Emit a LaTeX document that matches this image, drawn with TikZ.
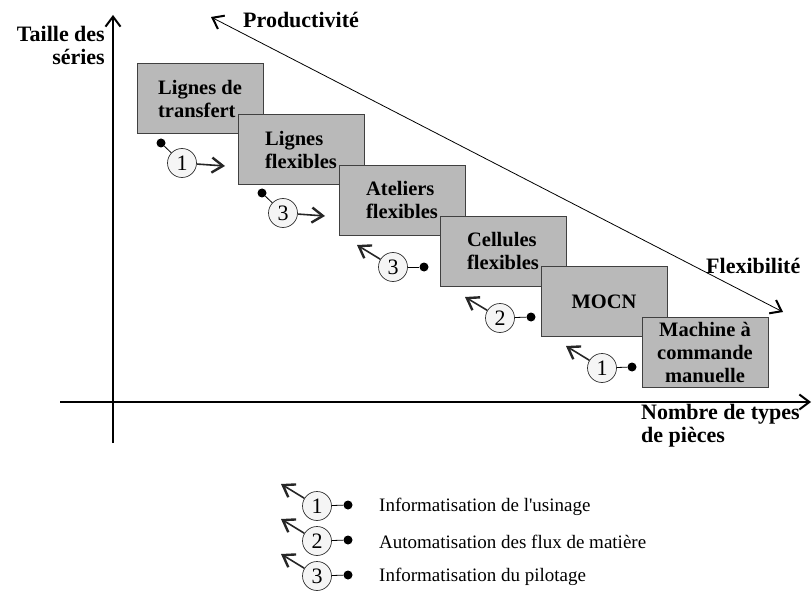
\documentclass[tikz,border=0pt]{standalone}
\usepackage{fontspec}
\setmainfont{Liberation Serif}
\usetikzlibrary{arrows.meta,positioning}
\tikzset{
  >={Straight Barb[length=10pt,width=15pt,line width=2pt]},
  lieu/.style={rectangle,draw=black!75,line width=1pt,fill=gray!55,minimum width=126pt,minimum height=70pt,align=left,inner sep=2pt,font=\bfseries\fontsize{20.5}{23}\selectfont},
  num/.style={circle,draw=black!80,line width=0.7pt,fill=gray!8,minimum size=29pt,inner sep=0pt,font=\fontsize{22}{22}\selectfont},
  pt/.style={circle,fill=black,minimum size=9pt,inner sep=0pt},
  flow/.style={-{Straight Barb[length=11pt,width=15pt,line width=2.4pt]},line width=1.6pt,draw=black!85},
  axe/.style={->,line width=1.4pt},
  lab/.style={inner sep=0pt,font=\bfseries\fontsize{22}{23}\selectfont},
  leg/.style={anchor=west,inner sep=0pt,font=\fontsize{19}{22}\selectfont}
}

\begin{document}
\begin{tikzpicture}[x=1pt,y=-1pt]
  \useasboundingbox (0,0) rectangle (812,615);

  % Axes
  \coordinate (yfoot) at (113,443);
  \coordinate (yhead) at (113,15);
  \coordinate (xfoot) at (60,402);
  \coordinate (xhead) at (811,402);
  \draw[axe] (yfoot) -- (yhead);
  \draw[axe] (xfoot) -- (xhead);
  \node[lab,anchor=north east,align=right] (taille) at (105,26) {Taille des\\séries};
  \node[lab,anchor=north west,align=left] (nombre) at (641,404) {Nombre de types\\de pièces};

  % Productivite / flexibilite
  \coordinate (prod) at (211,17);
  \coordinate (flex) at (783,312);
  \draw[axe,<->,line width=0.8pt] (prod) -- (flex);
  \node[lab,anchor=base west] (prodlab) at (243,28) {Productivité};
  \node[lab,anchor=base west] (flexlab) at (706,273) {Flexibilité};

  % Layered boxes
  \node[lieu] (transfert) at (200,99) {Lignes de\\transfert};
  \node[lieu,below right=-20.3pt and -26pt of transfert] (lignes) {Lignes\\flexibles};
  \node[lieu,below right=-20.3pt and -26pt of lignes] (ateliers) {Ateliers\\flexibles};
  \node[lieu,below right=-20.3pt and -26pt of ateliers] (cellules) {Cellules\\flexibles};
  \node[lieu,below right=-20.3pt and -26pt of cellules] (mocn) {MOCN};
  \node[lieu,align=center,below right=-20.3pt and -26pt of mocn] (manuelle) {Machine à\\commande\\manuelle};

  % Steps between boxes
  \node[num] (s1) at (182,163) {1};
  \node[pt] (d1) at (161,143) {};
  \coordinate (a1) at (225,166);
  \draw[line width=0.8pt] (d1) -- (s1);
  \draw[flow] (s1) -- (a1);

  \node[num] (s2) at (283,213) {3};
  \node[pt] (d2) at (262,193) {};
  \coordinate (a2) at (325,216);
  \draw[line width=0.8pt] (d2) -- (s2);
  \draw[flow] (s2) -- (a2);

  \node[num] (s3) at (393,267) {3};
  \node[pt] (d3) at (424,267) {};
  \coordinate (a3) at (357,245);
  \draw[line width=0.8pt] (s3) -- (d3);
  \draw[flow] (s3) -- (a3);

  \node[num] (s4) at (500,318) {2};
  \node[pt] (d4) at (531,317) {};
  \coordinate (a4) at (465,297);
  \draw[line width=0.8pt] (s4) -- (d4);
  \draw[flow] (s4) -- (a4);

  \node[num] (s5) at (602,368) {1};
  \node[pt] (d5) at (632,367) {};
  \coordinate (a5) at (566,346);
  \draw[line width=0.8pt] (s5) -- (d5);
  \draw[flow] (s5) -- (a5);

  % Legend
  \node[num] (l1) at (317,506) {1};
  \node[pt] (ld1) at (348,505) {};
  \coordinate (la1) at (281,484);
  \draw[line width=0.8pt] (l1) -- (ld1);
  \draw[flow] (l1) -- (la1);
  \node[leg] (lt1) at (379,507) {Informatisation de l\textquotesingle usinage};

  \node[num] (l2) at (317,541) {2};
  \node[pt] (ld2) at (348,540) {};
  \coordinate (la2) at (281,519);
  \draw[line width=0.8pt] (l2) -- (ld2);
  \draw[flow] (l2) -- (la2);
  \node[leg] (lt2) at (379,542) {Automatisation des flux de matière};

  \node[num] (l3) at (317,576) {3};
  \node[pt] (ld3) at (348,575) {};
  \coordinate (la3) at (281,554);
  \draw[line width=0.8pt] (l3) -- (ld3);
  \draw[flow] (l3) -- (la3);
  \node[leg] (lt3) at (379,577) {Informatisation du pilotage};
\end{tikzpicture}
\end{document}
